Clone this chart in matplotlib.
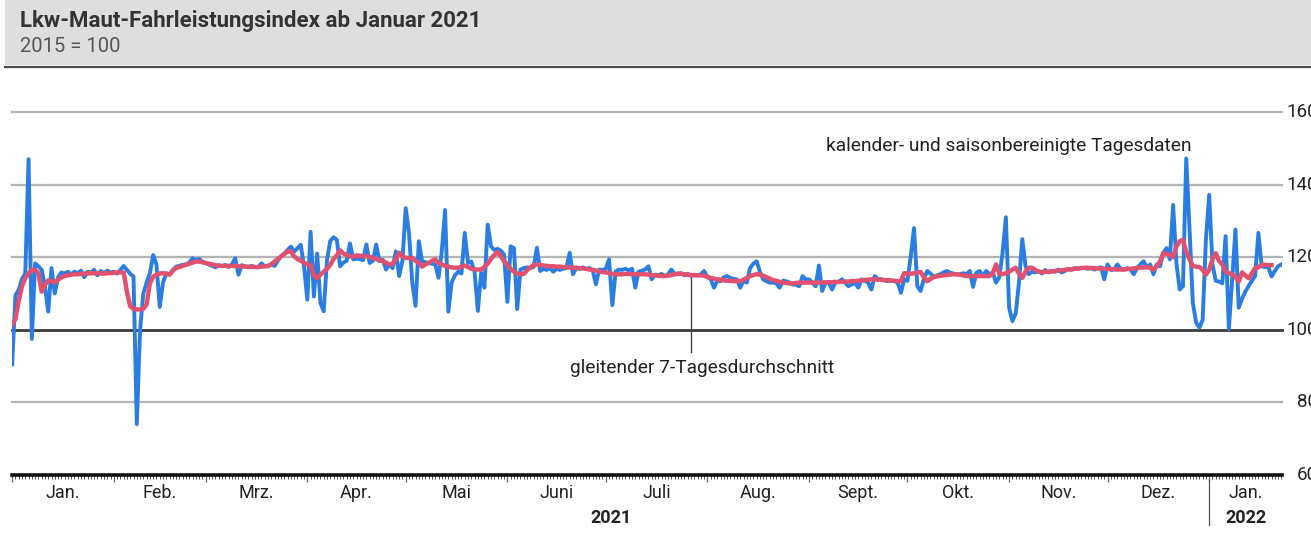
import matplotlib
matplotlib.use('Agg')
import matplotlib.pyplot as plt
import matplotlib.dates as mdates
import matplotlib.transforms as mtrans
from matplotlib.lines import Line2D
from matplotlib.patches import Rectangle
import pandas as pd
import numpy as np

plt.rcParams['font.family'] = ['Roboto', 'DejaVu Sans']

# ---------------- data: calendar- and seasonally adjusted daily index (blue) ----------------
jan21 = [90.5, 109.5, 111, 114, 115.5, 147, 97.5, 118.3, 117.5, 116.5, 112, 105, 117, 110, 114.5, 115.8,
         115.5, 116, 115.2, 116, 115.6, 116.3, 114.5, 116, 115.8, 116.5, 115, 116.2, 115.5, 116.3, 115.8]
feb21 = [116, 115.5, 116.5, 117.6, 116.5, 115.4, 114.7, 74, 100, 110, 113, 115.6, 120.6, 118, 106.3, 113,
         115.6, 115.3, 116.5, 117.4, 117.6, 117.9, 118, 118.5, 119.7, 119.2, 119.5, 118.8]
mar21 = [118.4, 118, 117.6, 117.2, 117.8, 117.5, 117.9, 117.3, 118, 119.7, 115.2, 117.8, 117.5, 117.2, 117.6,
         117.3, 117.2, 118.3, 117.5, 117.7, 118, 117.6, 119, 120.3, 121, 122, 122.9, 121.5, 122.5, 123.4, 117.4]
apr21 = [108.3, 127, 109.2, 121, 107.4, 105.1, 119.3, 124.5, 125.5, 124.8, 117.5, 118.5, 119, 123.8, 119.4,
         119.6, 119.5, 119.2, 123.5, 118.4, 119, 123.5, 118.9, 119.3, 116.6, 118, 117, 121.6, 114.8, 119]
may21 = [133.5, 126.7, 113, 106.6, 124.4, 118.9, 118.6, 118.4, 118.2, 118, 114.3, 121.6, 133, 105, 113, 115,
         116, 115.5, 126.7, 118.4, 118.8, 116, 105.2, 115.7, 111.6, 129, 123, 122, 122.3, 121.8, 120.7]
jun21 = [107.7, 123, 122.5, 105.7, 116.6, 117, 117.2, 117, 117.3, 122.6, 116.2, 116.8, 116.5, 117, 116,
         116.8, 116.5, 116.8, 117, 121.2, 115.3, 117, 116.8, 117.2, 116.8, 117, 116.5, 112.5, 116.6, 116.5]
jul21 = [116.8, 119.4, 106.8, 116, 116.6, 116.5, 116.8, 116.4, 116.8, 111.6, 116, 116.3, 116.6, 117.5, 113.9,
         115.2, 115, 115.4, 114.8, 115.3, 116.6, 115.4, 115.3, 115.6, 115, 115.4, 114.8, 115.2, 115, 115.3, 116.2]
aug21 = [114.5, 113.9, 111.6, 113.5, 113.4, 114.5, 114.8, 114.3, 114, 113.9, 111.6, 113.5, 113, 117, 118.2,
         118.9, 116, 113.9, 113.4, 113, 113, 112.8, 111.6, 113.5, 113.4, 113, 112.5, 112.4, 112, 114.8, 113.9]
sep21 = [113.9, 113, 112, 117.7, 110.7, 113, 113, 111.1, 113, 113.2, 113.9, 113, 112, 112.5, 113, 111.6,
         113.9, 113.5, 113, 111.1, 114.8, 114, 113.9, 113.6, 113.4, 113.5, 113.4, 113, 110.2, 113.9]
oct21 = [113.5, 120.3, 128, 112, 110.7, 114, 116.2, 115.5, 114.6, 115, 115.3, 115.8, 116.2, 115.7, 115.5,
         115.2, 115.3, 115.6, 115.3, 116.2, 111.8, 115.7, 116.2, 114.8, 116.2, 115.3, 115.8, 113, 114.5, 121.2, 131]
nov21 = [106, 102.4, 104.5, 113, 125, 117.5, 115.3, 116, 115.8, 116.2, 115.5, 116.5, 115.8, 116.2, 116,
         116.6, 115.8, 116.2, 116.8, 116.5, 117, 116.8, 117.1, 117, 116.8, 117, 116.6, 117, 117.2, 113.9]
dec21 = [118, 116.5, 116.6, 118, 116.8, 116.6, 117, 116.6, 115.3, 117, 118, 118.9, 117.1, 118, 115.3, 118,
         117.5, 121.2, 122.5, 119.4, 134.4, 118.4, 111.1, 112, 147.2, 128, 107.5, 102, 100.6, 102.7, 124.8]
jan22 = [137.2, 118, 113.5, 113.3, 112.8, 125.8, 100.2, 114, 127.6, 106.1, 108.5, 110.5, 112, 113.5, 114.8,
         126.7, 117.5, 117.3, 117.4, 114.7, 116.2, 117.5, 118]

# ---------------- data: 7-day moving average (red) ----------------
r_jan21 = [101.5, 103, 108, 112, 114.2, 115.5, 116.5, 116.5, 115.6, 110.5, 112.4, 113.6, 113.4, 113, 113.8,
           114.4, 114.8, 115, 115.2, 115.3, 115.3, 115.4, 115.5, 115.5, 115.6, 115.6, 115.6, 115.5, 115.5, 115.6, 115.6]
r_feb21 = [115.7, 115.8, 115.8, 115.8, 110.5, 106.5, 105.8, 105.6, 105.6, 105.8, 107, 112.8, 114.6, 115.2,
           115.5, 115.6, 115.4, 115.2, 116.3, 117, 117.3, 117.6, 117.9, 118.2, 118.5, 118.8, 118.8, 118.6]
r_mar21 = [118.4, 118.2, 118, 117.8, 117.6, 117.6, 117.6, 117.6, 117.6, 117.6, 117.5, 117.5, 117.4, 117.4,
           117.3, 117.3, 117.3, 117.4, 117.5, 117.5, 118, 118.8, 119.5, 120.2, 120.9, 121.6, 121.6, 120.2,
           119.5, 119, 118.5]
r_apr21 = [118, 117.9, 115, 114.2, 115.2, 116, 116.8, 117.9, 119.5, 120.5, 121.9, 121, 120.7, 120.2, 120.1,
           120.5, 120.4, 120.3, 120.3, 120.1, 119.8, 119.5, 119.2, 118.9, 118.5, 118, 118.2, 119.5, 121.2, 120.3]
r_may21 = [119.8, 119.8, 119.8, 119, 118.5, 117.4, 118, 118.4, 119, 119.4, 118.4, 118, 117.6, 117.4, 117.2,
           117.1, 117.1, 117.4, 117.7, 117.3, 116.8, 116.7, 116.6, 116.6, 117.3, 118.2, 119.5, 120.6, 121.4,
           120.3, 118.9]
r_jun21 = [117.8, 116.8, 116, 115.5, 115.4, 115.4, 116.4, 117.2, 117.8, 118, 117.9, 117.7, 117.6, 117.5,
           117.5, 117.4, 117.4, 117.3, 117.2, 117.2, 117.1, 117.1, 117, 116.9, 116.8, 116.6, 116.5, 116.3,
           116.1, 115.9]
r_jul21 = [115.8, 115.6, 115.4, 115.3, 115.3, 115.3, 115.4, 115.4, 115.3, 115.3, 115.3, 115.3, 115.3, 115.2,
           115.1, 115, 114.9, 114.8, 114.8, 114.9, 115.1, 115.3, 115.5, 115.4, 115.3, 115.2, 115.1, 115, 115,
           115, 114.9]
r_aug21 = [114.6, 114.3, 114.1, 113.9, 113.8, 113.6, 113.5, 113.5, 113.4, 113.4, 113.4, 113.8, 114.3, 114.8,
           115.1, 115.3, 115.2, 114.9, 114.5, 114.1, 113.7, 113.5, 113.2, 113, 112.9, 112.8, 112.8, 112.9, 113,
           113, 113]
r_sep21 = [113, 113, 113, 113, 113, 113.1, 113.1, 113.1, 113.2, 113.2, 113.2, 113.3, 113.3, 113.4, 113.4,
           113.5, 113.6, 113.7, 113.8, 113.9, 113.9, 113.8, 113.8, 113.7, 113.7, 113.6, 113.5, 113.4, 113.4, 115.6]
r_oct21 = [115.5, 115.4, 115.6, 115.8, 115.9, 114.5, 113.4, 114, 114.5, 114.7, 114.9, 115, 115.1, 115.2,
           115.3, 115.3, 115.2, 115, 114.8, 114.8, 114.8, 114.8, 114.8, 114.8, 114.8, 114.8, 115.5, 118, 115.5,
           115.3, 115.6]
r_nov21 = [116, 116.6, 117.1, 115.5, 114.3, 116, 117.1, 117.1, 116.5, 116, 115.9, 116, 116, 116.1, 116.2,
           116.3, 116.4, 116.5, 116.6, 116.7, 116.8, 116.9, 117, 117.1, 117.1, 117, 117, 116.9, 116.9, 116.8]
r_dec21 = [116.8, 116.7, 116.7, 116.6, 116.6, 116.6, 116.7, 116.8, 116.9, 117, 117.1, 117.2, 117.3, 117.1,
           116.6, 117.5, 118.8, 121.1, 120.9, 120.6, 120, 123, 124.4, 124.8, 121.5, 119.5, 117.6, 117.4, 117.3,
           116.5, 115.2]
r_jan22 = [116.5, 119.5, 121.1, 119, 118, 116, 115.6, 115.3, 114.5, 113.3, 115.8, 115, 114.2, 115.5, 117,
           117.2, 117.9, 117.9, 117.8, 117.8]

month_starts = ["2021-01-01", "2021-02-01", "2021-03-01", "2021-04-01", "2021-05-01", "2021-06-01",
                "2021-07-01", "2021-08-01", "2021-09-01", "2021-10-01", "2021-11-01", "2021-12-01",
                "2022-01-01"]
month_labels = ["Jan.", "Feb.", "Mrz.", "Apr.", "Mai", "Juni", "Juli", "Aug.", "Sept.", "Okt.", "Nov.",
                "Dez.", "Jan."]
y_ticks = [60, 80, 100, 120, 140, 160]

title = "Lkw-Maut-Fahrleistungsindex ab Januar 2021"
subtitle = "2015 = 100"
label_daily = "kalender- und saisonbereinigte Tagesdaten"
label_avg = "gleitender 7-Tagesdurchschnitt"

blue_months = [jan21, feb21, mar21, apr21, may21, jun21, jul21, aug21, sep21, oct21, nov21, dec21, jan22]
red_months = [r_jan21, r_feb21, r_mar21, r_apr21, r_may21, r_jun21, r_jul21, r_aug21, r_sep21, r_oct21,
              r_nov21, r_dec21, r_jan22]


def build(months):
    dates, vals = [], []
    for start, v in zip(month_starts, months):
        dates.extend(pd.date_range(start, periods=len(v), freq='D'))
        vals.extend(v)
    return pd.DatetimeIndex(dates), np.array(vals, dtype=float)


b_dates, b_vals = build(blue_months)
r_dates, r_vals = build(red_months)

W, H = 1311, 538
fig = plt.figure(figsize=(W / 100, H / 100), dpi=100)
fig.patch.set_facecolor('white')


def fx(x):
    return x / W


def fy(y):
    return 1 - y / H


# header band
fig.add_artist(Rectangle((fx(5), fy(65)), 1 - fx(5), 65 / H, transform=fig.transFigure,
                         facecolor='#dedede', edgecolor='none', zorder=0))
fig.add_artist(Line2D([fx(5), 1], [fy(66.5), fy(66.5)], transform=fig.transFigure,
                      color='#4a4a4a', lw=1.6))
fig.text(fx(20), fy(21), title, fontsize=16, fontweight='bold', color='#333333', va='center', ha='left')
fig.text(fx(20), fy(47), subtitle, fontsize=14.5, color='#555555', va='center', ha='left')

ax_l, ax_r, ax_t, ax_b = 12, 1282, 112, 475
ax = fig.add_axes([fx(ax_l), fy(ax_b), (ax_r - ax_l) / W, (ax_b - ax_t) / H])
ax.set_facecolor('none')

x0 = mdates.date2num(pd.Timestamp(month_starts[0]))
x1 = mdates.date2num(b_dates[-1]) + 0.2
ax.set_xlim(x0 - 0.05, x1)
ax.set_ylim(60, 160)

for v in y_ticks[1:]:
    if v == 100:
        ax.axhline(v, color='#3a3a3a', lw=2.0, zorder=2, clip_on=False)
    else:
        ax.axhline(v, color='#b4b4b4', lw=1.6, zorder=1, clip_on=False)

ax.plot(b_dates, b_vals, color='#2a7de1', lw=2.8, zorder=3)
ax.plot(r_dates, r_vals, color='#e2506f', lw=3.2, zorder=4)

for s in ['top', 'right', 'left']:
    ax.spines[s].set_visible(False)
ax.spines['bottom'].set_linewidth(2.6)
ax.spines['bottom'].set_color('#111111')
ax.set_yticks([])

ax.xaxis.set_major_locator(mdates.MonthLocator())
ax.xaxis.set_minor_locator(mdates.DayLocator())
ax.xaxis.set_major_formatter(plt.NullFormatter())
ax.tick_params(axis='x', which='minor', length=3, width=0.6, color='#333333', direction='out')
ax.tick_params(axis='x', which='major', length=5, width=0.9, color='#666666', direction='out')

# y labels on the right (cut by the figure edge as in the original)
ytr = mtrans.blended_transform_factory(fig.transFigure, ax.transData)
for v in y_ticks:
    ax.text(fx(1318), v, str(v), transform=ytr, ha='right', va='center', fontsize=13.5,
            color='#222222', clip_on=False)

# month labels
xtr = mtrans.blended_transform_factory(ax.transData, ax.transAxes)
starts = [pd.Timestamp(s) for s in month_starts]
for i, (s, lab) in enumerate(zip(starts, month_labels)):
    if i + 1 < len(starts):
        e = starts[i + 1]
        mid = mdates.date2num(s) + (e - s).days / 2
    else:
        mid = (mdates.date2num(s) + x1) / 2
    ax.text(mid, -18 / (ax_b - ax_t), lab, transform=xtr, ha='center', va='center', fontsize=13,
            color='#222222')

# year labels
y2021_mid = mdates.date2num(pd.Timestamp("2021-01-01")) + 182.5
ax.text(y2021_mid, -43 / (ax_b - ax_t), "2021", transform=xtr, ha='center', va='center', fontsize=13,
        fontweight='bold', color='#222222')
ax.text((mdates.date2num(starts[-1]) + x1) / 2, -43 / (ax_b - ax_t), "2022", transform=xtr, ha='center',
        va='center', fontsize=13, fontweight='bold', color='#222222')
sep_x = mdates.date2num(starts[-1])
ax.add_line(Line2D([sep_x, sep_x], [-4 / (ax_b - ax_t), -50 / (ax_b - ax_t)], transform=xtr,
                   color='#555555', lw=0.9, clip_on=False))

# annotations
ax.text((826 - ax_l) / (ax_r - ax_l), (ax_b - 146) / (ax_b - ax_t), label_daily, transform=ax.transAxes,
        ha='left', va='center', fontsize=13.8, color='#222222')
ax.text((702.5 - ax_l) / (ax_r - ax_l), (ax_b - 368) / (ax_b - ax_t), label_avg, transform=ax.transAxes,
        ha='center', va='center', fontsize=13.8, color='#222222')
px_line = (690.7 - ax_l) / (ax_r - ax_l)
ax.add_line(Line2D([px_line, px_line], [(ax_b - 278) / (ax_b - ax_t), (ax_b - 352) / (ax_b - ax_t)],
                   transform=ax.transAxes, color='#444444', lw=1.0, zorder=5))

fig.savefig('out.png', dpi=100)
